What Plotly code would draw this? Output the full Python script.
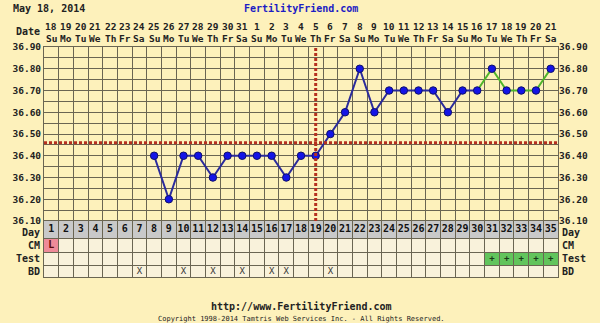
import plotly.graph_objects as go

# ---------------- data ----------------
days = list(range(1, 36))
date_nums = ["18", "19", "20", "21", "22", "23", "24", "25", "26", "27", "28", "29", "30", "31",
             "1", "2", "3", "4", "5", "6", "7", "8", "9", "10", "11", "12", "13", "14", "15",
             "16", "17", "18", "19", "20", "21"]
weekdays = ["Su", "Mo", "Tu", "We", "Th", "Fr", "Sa"] * 5

temp_days = list(range(8, 36))
temps = [36.40, 36.20, 36.40, 36.40, 36.30, 36.40, 36.40, 36.40, 36.40, 36.30, 36.40, 36.40,
         36.50, 36.60, 36.80, 36.60, 36.70, 36.70, 36.70, 36.70, 36.60, 36.70, 36.70,
         36.80, 36.70, 36.70, 36.70, 36.80]
green_from_day = 30

coverline = 36.46
ovulation_day = 19

cm_days = [1]
cm_codes = ["L"]
test_days = [31, 32, 33, 34, 35]
test_codes = ["+", "+", "+", "+", "+"]
bd_days = [7, 10, 12, 14, 16, 17, 20]

y_min, y_max = 36.10, 36.90
y_ticks = [round(36.10 + 0.05 * i, 2) for i in range(17)]
y_ticktext = [f"{v:.2f}" if i % 2 == 0 else "" for i, v in enumerate(y_ticks)]

row_names = ["Day", "CM", "Test", "BD"]

# ---------------- geometry / style ----------------
W, H = 600, 323
ML, MR, MT, MB = 38, 38, 47, 46
PH = H - MT - MB
PB = H - MB  # pixel of plot bottom
temp_bottom_pix = 221
row_edges = [221, 238, 252, 265.5, 277]
row_centers = [(row_edges[i] + row_edges[i + 1]) / 2 for i in range(4)]
label_shift = [-2.5, 0, 0, 0]  # pixel shift of side labels (Day sits a bit low)


def py(pix):
    return (PB - pix) / PH


BG = "#fdf1bb"
CELL = "#f9f2db"
GRID = "#6a6552"
GRAY = "#c9c9c9"
FONT = "DejaVu Sans Mono"
RED = "#b5301f"

fig = go.Figure()

gi = temp_days.index(green_from_day)
fig.add_trace(go.Scatter(x=temp_days[:gi + 1], y=temps[:gi + 1], mode="lines",
                         line=dict(color="#2b2b9c", width=2), xaxis="x", yaxis="y",
                         hoverinfo="skip", showlegend=False))
fig.add_trace(go.Scatter(x=temp_days[gi:], y=temps[gi:], mode="lines",
                         line=dict(color="#4fb52b", width=2), xaxis="x", yaxis="y",
                         hoverinfo="skip", showlegend=False))
fig.add_trace(go.Scatter(x=temp_days, y=temps, mode="markers",
                         marker=dict(color="#1414e6", size=7.5, line=dict(color="#10106a", width=1)),
                         xaxis="x", yaxis="y", hoverinfo="skip", showlegend=False))

# table texts
fig.add_trace(go.Scatter(x=days, y=[row_centers[0]] * len(days), mode="text",
                         text=[f"<b>{d}</b>" for d in days],
                         textfont=dict(family=FONT, size=10, color="#111"),
                         xaxis="x2", yaxis="y2", hoverinfo="skip", showlegend=False))
fig.add_trace(go.Scatter(x=cm_days, y=[row_centers[1]] * len(cm_days), mode="text",
                         text=[f"<b>{c}</b>" for c in cm_codes],
                         textfont=dict(family=FONT, size=10, color="#5a0a0a"),
                         xaxis="x2", yaxis="y2", hoverinfo="skip", showlegend=False))
fig.add_trace(go.Scatter(x=test_days, y=[row_centers[2]] * len(test_days), mode="text",
                         text=[f"<b>{c}</b>" for c in test_codes],
                         textfont=dict(family=FONT, size=9, color="#1a3a1a"),
                         xaxis="x2", yaxis="y2", hoverinfo="skip", showlegend=False))
fig.add_trace(go.Scatter(x=bd_days, y=[row_centers[3]] * len(bd_days), mode="text",
                         text=["X"] * len(bd_days),
                         textfont=dict(family=FONT, size=9, color="#333"),
                         xaxis="x2", yaxis="y2", hoverinfo="skip", showlegend=False))

shapes = []
# table background
shapes.append(dict(type="rect", xref="x2", yref="y2", x0=0.5, x1=35.5, y0=row_edges[0], y1=row_edges[4],
                   fillcolor=CELL, line=dict(width=0), layer="below"))
shapes.append(dict(type="rect", xref="x2", yref="y2", x0=0.5, x1=35.5, y0=row_edges[0], y1=row_edges[1],
                   fillcolor=GRAY, line=dict(width=0), layer="below"))
for d in cm_days:
    shapes.append(dict(type="rect", xref="x2", yref="y2", x0=d - 0.5, x1=d + 0.5,
                       y0=row_edges[1], y1=row_edges[2], fillcolor="#ef8a98", line=dict(width=0), layer="below"))
for d in test_days:
    shapes.append(dict(type="rect", xref="x2", yref="y2", x0=d - 0.5, x1=d + 0.5,
                       y0=row_edges[2], y1=row_edges[3], fillcolor="#62c45c", line=dict(width=0), layer="below"))
# coverline and ovulation line
shapes.append(dict(type="line", xref="x", yref="y", x0=0.5, x1=35.5, y0=coverline, y1=coverline,
                   line=dict(color=RED, width=3, dash="3px,2px")))
shapes.append(dict(type="line", xref="x", yref="y", x0=ovulation_day, x1=ovulation_day, y0=y_min, y1=y_max,
                   line=dict(color=RED, width=3, dash="3px,2px")))

ann = []
af = dict(family=FONT, size=10, color="#222")
PW = W - ML - MR
ann.append(dict(text="<b>May 18, 2014</b>", xref="paper", yref="paper", x=(4 - ML) / PW,
                y=py(8), xanchor="left", yanchor="middle", showarrow=False, font=af))
ann.append(dict(text="<b>FertilityFriend.com</b>", xref="paper", yref="paper", x=(300 - ML) / PW,
                y=py(8), xanchor="center", yanchor="middle", showarrow=False,
                font=dict(family=FONT, size=10, color="#1c1cc4")))
ann.append(dict(text="<b>Date</b>", xref="paper", yref="paper", x=0, xshift=-2, y=py(32),
                xanchor="right", yanchor="middle", showarrow=False, font=af))
for d, n, w in zip(days, date_nums, weekdays):
    ann.append(dict(text=f"<b>{n}</b>", xref="x", yref="paper", x=d, y=py(26), xanchor="center",
                    yanchor="middle", showarrow=False, font=dict(family=FONT, size=9.5, color="#222")))
    ann.append(dict(text=f"<b>{w}</b>", xref="x", yref="paper", x=d, y=py(38.5), xanchor="center",
                    yanchor="middle", showarrow=False, font=dict(family=FONT, size=9.5, color="#222")))
for name, c, s in zip(row_names, row_centers, label_shift):
    ann.append(dict(text=f"<b>{name}</b>", xref="paper", yref="paper", x=0, xshift=-2, y=py(c), yshift=s,
                    xanchor="right", yanchor="middle", showarrow=False, font=af))
    ann.append(dict(text=f"<b>{name}</b>", xref="paper", yref="paper", x=1, xshift=2, y=py(c), yshift=s,
                    xanchor="left", yanchor="middle", showarrow=False, font=af))
ann.append(dict(text="<b>http://www.FertilityFriend.com</b>", xref="paper", yref="paper",
                x=(300 - ML) / PW, y=py(306.5), xanchor="center", yanchor="middle",
                showarrow=False, font=af))
ann.append(dict(text="Copyright 1998-2014 Tamtris Web Services Inc. - All Rights Reserved.", xref="paper",
                yref="paper", x=(300 - ML) / PW, y=py(319), xanchor="center", yanchor="middle",
                showarrow=False, font=dict(family=FONT, size=7, color="#222")))

x_grid = [d - 0.5 for d in days] + [35.5]
temp_dom0 = py(temp_bottom_pix)
tick_font = dict(family=FONT, size=9.5, color="#222", weight="bold")

fig.update_layout(
    width=W, height=H, margin=dict(l=ML, r=MR, t=MT, b=MB),
    paper_bgcolor=BG, plot_bgcolor=BG, showlegend=False,
    xaxis=dict(domain=[0, 1], range=[0.5, 35.5], tickvals=x_grid, showticklabels=False, ticks="",
               showgrid=True, gridcolor=GRID, gridwidth=1, zeroline=False, anchor="y",
               showline=True, linecolor=GRID, mirror=True),
    yaxis=dict(domain=[temp_dom0, 1], range=[y_min, y_max], tickvals=y_ticks, ticktext=y_ticktext,
               showgrid=True, gridcolor=GRID, gridwidth=1, zeroline=False, ticks="",
               tickfont=tick_font, showline=True, linecolor=GRID, mirror=True, anchor="x"),
    yaxis3=dict(overlaying="y", side="right", range=[y_min, y_max], tickvals=y_ticks, ticktext=y_ticktext,
                showgrid=False, zeroline=False, ticks="", anchor="x", tickfont=tick_font),
    xaxis2=dict(domain=[0, 1], range=[0.5, 35.5], tickvals=x_grid, showticklabels=False, ticks="",
                showgrid=True, gridcolor=GRID, gridwidth=1, zeroline=False, anchor="y2",
                showline=True, linecolor=GRID, mirror=True),
    yaxis2=dict(domain=[0, temp_dom0], range=[row_edges[4], row_edges[0]], tickvals=row_edges,
                showticklabels=False, ticks="", showgrid=True, gridcolor=GRID, gridwidth=1,
                zeroline=False, anchor="x2", showline=True, linecolor=GRID, mirror=True),
    shapes=shapes, annotations=ann,
)
# dummy trace to activate yaxis3
fig.add_trace(go.Scatter(x=[None], y=[None], xaxis="x", yaxis="y3", showlegend=False, hoverinfo="skip"))

fig.write_html("out.html")
